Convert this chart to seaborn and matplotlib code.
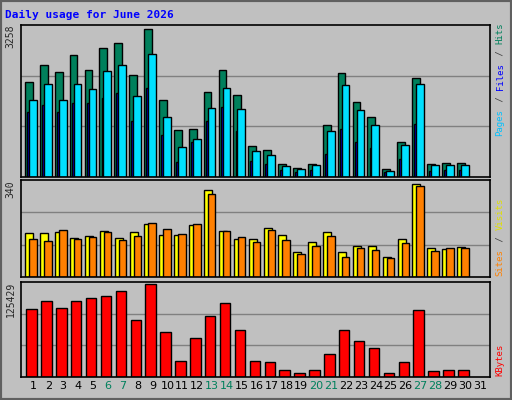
import numpy as np
import matplotlib
matplotlib.use("Agg")
import matplotlib.pyplot as plt
import seaborn as sns

days = list(range(1, 31))
hits = [2103, 2481, 2325, 2681, 2370, 2836, 2947, 2259, 3258, 1703, 1037, 1059, 1881, 2370, 1814, 681,
        592, 281, 200, 281, 1147, 2303, 1659, 1325, 170, 770, 2192, 281, 304, 304]
pages = [1703, 2059, 1703, 2059, 1948, 2347, 2481, 1792, 2725, 1326, 659, 837, 1525, 1970, 1503, 570,
         481, 237, 170, 259, 1014, 2036, 1481, 1148, 126, 703, 2059, 259, 259, 259]
files = [1437, 1592, 1437, 1637, 1637, 1748, 1859, 1237, 1970, 926, 326, 770, 1237, 1548, 1015, 348,
         281, 148, 104, 148, 503, 1059, 770, 637, 104, 392, 1170, 126, 148, 148]
sites = [162, 162, 166, 144, 151, 169, 144, 166, 195, 155, 155, 191, 320, 169, 140, 140, 180, 155, 92, 129,
         166, 92, 114, 114, 74, 140, 340, 107, 103, 110]
visits = [140, 133, 173, 140, 147, 166, 136, 151, 199, 177, 158, 195, 306, 169, 147, 129, 173, 136, 85, 114,
          151, 74, 107, 99, 70, 125, 335, 96, 107, 107]
kbytes = [92476, 103460, 93849, 103460, 107580, 110330, 115820, 77370, 125429, 60890, 21060, 52650, 82860,
          100720, 63630, 21060, 19690, 10070, 5950, 10070, 30670, 63630, 48530, 38910, 5950, 19690, 91100,
          8700, 10070, 10070]
xlabels = [str(d) for d in range(1, 32)]
weekend = {6, 7, 13, 14, 20, 21, 27, 28}

sns.set_style("white")
plt.rcParams['font.family'] = ['DejaVu Sans']
BG = "#c0c0c0"
fig = plt.figure(figsize=(5.12, 4.0), dpi=100, facecolor=BG)
d = np.array(days, dtype=float)

def make_ax(bottom, height):
    return fig.add_axes([0.041, bottom, 0.916, height], facecolor=BG)

def finish(ax, ylim, label):
    ax.set_xlim(0.17, 31.67)
    ax.set_ylim(0, ylim)
    ax.set_yticks([ylim / 3, 2 * ylim / 3])
    ax.set_yticklabels([])
    ax.yaxis.grid(True, color="#808080", lw=1)
    ax.set_axisbelow(True)
    ax.set_xlabel(""); ax.set_ylabel("")
    ax.tick_params(length=0)
    for s in ax.spines.values():
        s.set_visible(True); s.set_color("black"); s.set_linewidth(1.2)
    ax.text(-0.012, 1.0, label, transform=ax.transAxes, rotation=90, ha="right", va="top",
            fontsize=7, family="DejaVu Sans Mono")

def bars(ax, x, y, w, color):
    sns.barplot(x=x, y=y, native_scale=True, width=w, color=color, edgecolor="black",
                linewidth=1, ax=ax, saturation=1)

ax1 = make_ax(0.5575, 0.38)
bars(ax1, d - 0.30, hits, 0.52, "#00805c")
bars(ax1, d - 0.355, files, 0.13, "#0000ff")
bars(ax1, d - 0.03, pages, 0.52, "#00e0ff")
finish(ax1, 3354, "3258")
ax1.set_xticks(d); ax1.set_xticklabels([])

ax2 = make_ax(0.3075, 0.2425)
bars(ax2, d - 0.27, sites, 0.54, "#ffff00")
bars(ax2, d - 0.02, visits, 0.50, "#ff8000")
finish(ax2, 356, "340")
ax2.set_xticks(d); ax2.set_xticklabels([])

ax3 = make_ax(0.0575, 0.2375)
bars(ax3, d - 0.12, kbytes, 0.70, "#ff0000")
finish(ax3, 128640, "125429")
ax3.set_xticks(list(range(1, 32)))
ax3.set_xticklabels(xlabels, fontsize=8)
for t, lab in zip(ax3.get_xticklabels(), range(1, 32)):
    t.set_color("#00805c" if lab in weekend else "black")
ax3.tick_params(axis="x", pad=3)

fig.text(5 / 512, 1 - 15 / 400, "Daily usage for June 2026", color="#0000ff", fontsize=8,
         fontweight="bold", family="DejaVu Sans Mono", va="center", ha="left")

FS = 6.5
def side(pieces, ybottom_px):
    step = 0.602 * FS * 100 / 72 + 0.3
    y = ybottom_px
    for txt, col in pieces:
        fig.text(500 / 512, 1 - y / 400, txt, rotation=90, color=col, fontsize=FS,
                 family="DejaVu Sans Mono", ha="center", va="bottom")
        y -= step * len(txt)

side([("Pages", "#00c0ff"), (" / ", "#404040"), ("Files", "#0000ff"), (" / ", "#404040"), ("Hits", "#00805c")], 136)
side([("Sites", "#ff8000"), (" / ", "#404040"), ("Visits", "#e0e000")], 276)
side([("KBytes", "#ff0000")], 376)

fig.patches.append(matplotlib.patches.Rectangle((0, 0), 1, 1, transform=fig.transFigure,
                   fill=False, edgecolor="#606060", lw=3))
fig.savefig("out.png", dpi=100, facecolor=BG)
